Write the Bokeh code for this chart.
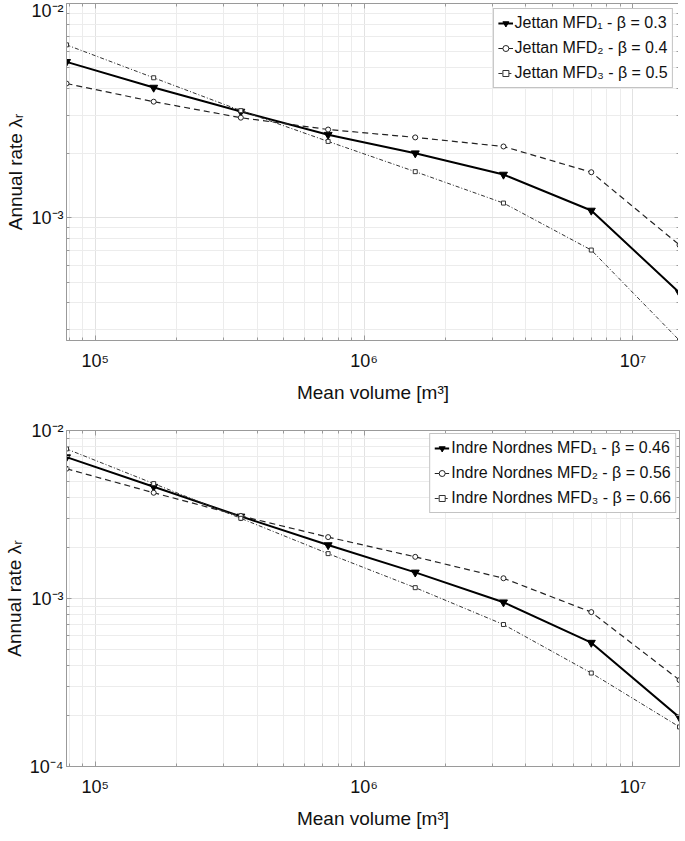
from bokeh.plotting import figure
from bokeh.layouts import column
from bokeh.models import (FixedTicker, CustomJSTickFormatter, Legend, LegendItem,
                          Range1d, LogAxis)
from bokeh.embed import file_html
from bokeh.resources import INLINE

# ---------------- data ----------------
volume = [7.82e4, 1.65e5, 3.48e5, 7.35e5, 1.55e6, 3.30e6, 7.00e6, 1.49e7]

jettan_mfd1 = [5.34e-3, 4.05e-3, 3.13e-3, 2.44e-3, 2.00e-3, 1.59e-3, 1.08e-3, 4.46e-4]
jettan_mfd2 = [4.23e-3, 3.48e-3, 2.93e-3, 2.58e-3, 2.37e-3, 2.15e-3, 1.63e-3, 7.45e-4]
jettan_mfd3 = [6.41e-3, 4.50e-3, 3.16e-3, 2.27e-3, 1.64e-3, 1.17e-3, 7.06e-4, 2.67e-4]

nordnes_mfd1 = [6.94e-3, 4.63e-3, 3.08e-3, 2.08e-3, 1.43e-3, 9.50e-4, 5.46e-4, 1.96e-4]
nordnes_mfd2 = [5.92e-3, 4.26e-3, 3.10e-3, 2.32e-3, 1.77e-3, 1.32e-3, 8.30e-4, 3.27e-4]
nordnes_mfd3 = [7.77e-3, 4.83e-3, 3.00e-3, 1.85e-3, 1.16e-3, 7.00e-4, 3.60e-4, 1.72e-4]

jettan_labels = ["Jettan MFD\u2081 - \u03b2 = 0.3",
                 "Jettan MFD\u2082 - \u03b2 = 0.4",
                 "Jettan MFD\u2083 - \u03b2 = 0.5"]
nordnes_labels = ["Indre Nordnes MFD\u2081 - \u03b2 = 0.46",
                  "Indre Nordnes MFD\u2082 - \u03b2 = 0.56",
                  "Indre Nordnes MFD\u2083 - \u03b2 = 0.66"]

x_decades = [4, 5, 6, 7, 8]
y_decades = [-5, -4, -3, -2, -1]

x_label = "Mean volume [m\u00b3]"
y_label = "Annual rate \u03bb\u1d63"

FONT = "Liberation Sans"
AXIS_GRAY = "#9a9a9a"


def decade_ticks(decades):
    major = [10.0 ** d for d in decades]
    minor = [m * 10.0 ** d for d in decades for m in range(2, 10)]
    return major, minor


fmt_code = """
const e = Math.round(Math.log10(tick));
const sup = {"-":"\u207b","0":"\u2070","1":"\u00b9","2":"\u00b2","3":"\u00b3",
             "4":"\u2074","5":"\u2075","6":"\u2076","7":"\u2077","8":"\u2078","9":"\u2079"};
return "10" + String(e).split("").map(c => sup[c]).join("");
"""
blank_code = "return '';"


def style_ticks(ax):
    ax.axis_line_color = AXIS_GRAY
    ax.major_tick_line_color = AXIS_GRAY
    ax.minor_tick_line_color = AXIS_GRAY
    ax.major_tick_in = 5
    ax.major_tick_out = 0
    ax.minor_tick_in = 3
    ax.minor_tick_out = 0


def make_plot(series, labels, ymin, ymax, border_top, border_bottom, fh, legend_margin):
    xmaj, xmin_t = decade_ticks(x_decades)
    ymaj, ymin_t = decade_ticks(y_decades)
    p = figure(x_axis_type="log", y_axis_type="log",
               x_range=Range1d(min(volume), max(volume)),
               y_range=Range1d(ymin, ymax),
               frame_width=613, frame_height=fh,
               min_border_left=54, min_border_right=1,
               min_border_top=border_top, min_border_bottom=border_bottom,
               output_backend="svg", toolbar_location=None)
    p.outline_line_color = AXIS_GRAY
    p.outline_line_width = 1
    p.background_fill_color = "white"

    for ax, maj, mnr in ((p.xaxis[0], xmaj, xmin_t), (p.yaxis[0], ymaj, ymin_t)):
        ax.ticker = FixedTicker(ticks=maj, minor_ticks=mnr)
        ax.formatter = CustomJSTickFormatter(code=fmt_code)
        style_ticks(ax)
        ax.major_label_text_font = FONT
        ax.major_label_text_font_size = "18px"
        ax.major_label_text_color = "#111111"
        ax.axis_label_text_font = FONT
        ax.axis_label_text_font_size = "19px"
        ax.axis_label_text_font_style = "normal"
        ax.axis_label_text_color = "#111111"
    p.xaxis.axis_label = x_label
    p.yaxis.axis_label = y_label
    p.xaxis.major_label_standoff = 10
    p.xaxis.axis_label_standoff = 8
    p.yaxis.major_label_standoff = 3
    p.yaxis.axis_label_standoff = 2

    # mirrored tick marks on the top and right edges (box on)
    for loc, maj, mnr in (("above", xmaj, xmin_t), ("right", ymaj, ymin_t)):
        ax2 = LogAxis(ticker=FixedTicker(ticks=maj, minor_ticks=mnr),
                      formatter=CustomJSTickFormatter(code=blank_code),
                      major_label_standoff=0,
                      major_label_text_font_size="0px")
        style_ticks(ax2)
        p.add_layout(ax2, loc)

    for g in (p.xgrid[0], p.ygrid[0]):
        g.grid_line_color = "#e2e2e2"
        g.minor_grid_line_color = "#ececec"
        g.grid_line_width = 1
        g.minor_grid_line_width = 1

    y1, y2, y3 = series
    r1l = p.line(volume, y1, line_color="black", line_width=2)
    r1m = p.scatter(volume, y1, marker="inverted_triangle", size=8,
                    fill_color="black", line_color="black")
    r2l = p.line(volume, y2, line_color="#222222", line_width=1.2, line_dash="6 4")
    r2m = p.scatter(volume, y2, marker="circle", size=5,
                    fill_color="white", line_color="#222222", line_width=1)
    r3l = p.line(volume, y3, line_color="#333333", line_width=1, line_dash="4 2 1 2")
    r3m = p.scatter(volume, y3, marker="square", size=4,
                    fill_color="white", line_color="#333333", line_width=1)

    legend = Legend(items=[
        LegendItem(label=labels[0], renderers=[r1l, r1m]),
        LegendItem(label=labels[1], renderers=[r2l, r2m]),
        LegendItem(label=labels[2], renderers=[r3l, r3m]),
    ], location="top_right")
    legend.label_text_font = FONT
    legend.label_text_font_size = "16px"
    legend.label_text_color = "#111111"
    legend.glyph_width = 15
    legend.glyph_height = 16
    legend.label_height = 20
    legend.label_standoff = 2
    legend.spacing = 5
    legend.padding = 4
    legend.margin = legend_margin
    legend.border_line_color = "#888888"
    legend.background_fill_alpha = 1.0
    p.add_layout(legend)
    return p


top = make_plot((jettan_mfd1, jettan_mfd2, jettan_mfd3), jettan_labels,
                min(jettan_mfd3), 1e-2, border_top=3, border_bottom=70, fh=337,
                legend_margin=5)
bottom = make_plot((nordnes_mfd1, nordnes_mfd2, nordnes_mfd3), nordnes_labels,
                   1e-4, 1e-2, border_top=20, border_bottom=59, fh=336,
                   legend_margin=3)

layout = column(top, bottom, spacing=0)
open("out.html", "w").write(file_html(layout, INLINE))
